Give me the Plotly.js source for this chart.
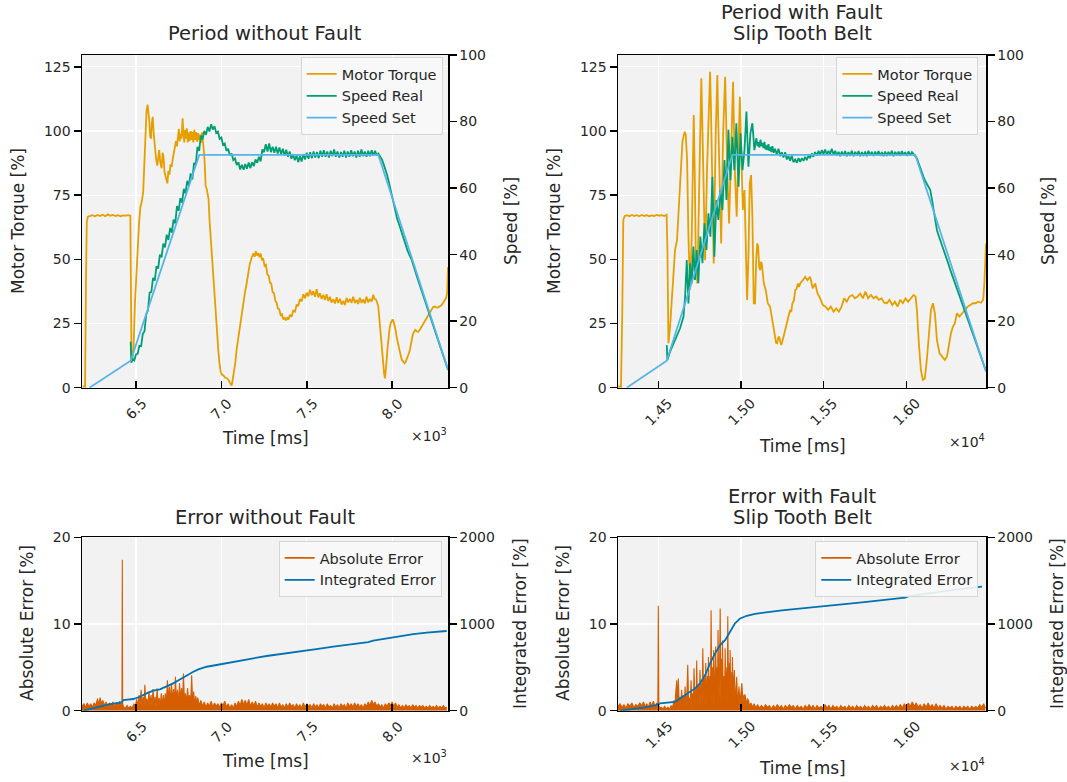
<!DOCTYPE html>
<html><head><meta charset="utf-8">
<script src="https://cdn.plot.ly/plotly-3.0.1.min.js"></script>
<style>html,body{margin:0;padding:0;background:#fff}#chart{width:1067px;height:782px}</style>
</head><body><div id="chart"></div>
<script>
// ---------------- DATA (time in ms, values in %) ----------------
const noFaultTickVals = [6500, 7000, 7500, 8000];
const noFaultTickText = ['6.5', '7.0', '7.5', '8.0'];
const faultTickVals = [14500, 15000, 15500, 16000];
const faultTickText = ['1.45', '1.50', '1.55', '1.60'];
const torqueTicks = [0, 25, 50, 75, 100, 125];
const speedTicks = [0, 20, 40, 60, 80, 100];
const absErrTicks = [0, 10, 20];
const intErrTicks = [0, 1000, 2000];

const noFaultTorque = [[6188,0.5],[6202,0.3],[6207,40],[6212,64.5],[6218,66.6],[6230,66.9],[6245,67.2],[6260,66.8],[6275,67.3],[6290,66.9],[6305,67.4],[6320,66.8],[6335,67.5],[6350,67.0],[6365,67.3],[6380,66.9],[6395,67.2],[6410,66.8],[6425,67.1],[6440,67.0],[6455,67.2],[6467,67.0],[6471,40],[6474,10.8],[6480,10.5],[6486,16],[6494,32.9],[6502,45],[6510,53],[6518,64],[6526,70.5],[6534,72.5],[6542,76],[6548,86],[6555,98],[6562,108],[6568,110.3],[6573,108],[6578,104],[6583,98],[6588,97],[6593,103],[6598,105.5],[6604,99],[6611,92.6],[6618,89],[6625,86.5],[6631,92],[6636,92.6],[6642,88],[6650,85.5],[6656,91.5],[6661,90],[6667,84],[6673,82.5],[6679,80.5],[6684,79.6],[6690,84.5],[6696,83],[6702,87],[6709,86],[6715,89],[6722,91.3],[6728,93],[6734,96],[6740,94],[6746,99],[6751,100.8],[6756,96],[6762,99],[6767,97],[6773,104.9],[6778,99],[6783,95.5],[6788,100.5],[6793,97],[6798,101],[6803,95.5],[6808,99.5],[6814,96],[6820,100],[6826,96.5],[6831,99.7],[6836,95.5],[6842,100.5],[6848,96.5],[6853,99.6],[6858,95.8],[6864,99.2],[6869,96.5],[6875,98.6],[6881,95.4],[6887,99.5],[6892,97],[6897,92.6],[6902,88],[6908,78.5],[6914,77.5],[6920,75.5],[6925,73.5],[6931,65],[6937,58.8],[6945,51],[6953,43.2],[6960,35.5],[6968,27.7],[6975,21],[6982,14.7],[6989,9.5],[6996,6.2],[7004,5.0],[7011,4.9],[7020,4.0],[7031,3.8],[7040,3.2],[7046,2.5],[7053,1.5],[7060,0.8],[7066,3],[7074,6],[7082,10],[7089,14.7],[7099,19.5],[7109,23.8],[7118,28.5],[7128,33],[7138,37],[7148,40.6],[7157,44.6],[7167,48.4],[7177,50.5],[7187,52.3],[7195,51],[7202,53.2],[7209,51.5],[7216,52.4],[7223,50.8],[7230,52.3],[7238,49.6],[7245,50.4],[7253,47.4],[7261,47.8],[7269,44.2],[7277,43.6],[7285,40.8],[7292,40.6],[7300,37.2],[7308,36.9],[7316,33.8],[7323,33.2],[7331,30.8],[7339,30.6],[7347,28.2],[7355,28.6],[7362,26.6],[7370,27.4],[7378,26.2],[7386,27.2],[7393,26.6],[7401,28.4],[7411,27.6],[7421,30],[7431,29.6],[7441,32.4],[7450,31.8],[7460,34.6],[7470,33.6],[7480,36.4],[7490,34.8],[7499,37.0],[7509,35.6],[7519,38.2],[7529,36.0],[7538,37.6],[7548,35.4],[7558,38.4],[7568,35.2],[7577,36.8],[7587,34.6],[7597,36.2],[7606,34.2],[7616,36.4],[7626,33.8],[7636,35.4],[7645,33.2],[7655,34.4],[7665,32.8],[7675,35.2],[7684,33.0],[7694,34.6],[7704,32.4],[7714,33.8],[7723,32.2],[7733,35.0],[7743,33.2],[7753,34.6],[7762,33.0],[7772,35.4],[7782,33.0],[7792,34.2],[7801,32.6],[7811,35.0],[7821,33.0],[7831,34.4],[7840,32.8],[7850,35.4],[7860,33.2],[7870,34.6],[7880,33.6],[7889,36.2],[7897,34.6],[7905,34.4],[7912,33.2],[7919,31.6],[7925,27],[7932,21.2],[7940,14.5],[7948,9.5],[7953,5.5],[7958,3.6],[7963,6.5],[7968,10.8],[7973,15.5],[7979,19.9],[7985,23],[7991,25.1],[7997,26.3],[8003,26.6],[8009,25.6],[8014,24.4],[8020,22.5],[8026,19.9],[8034,17],[8042,14.7],[8050,12.5],[8057,10.8],[8065,10],[8073,9.5],[8080,10.2],[8088,11.4],[8096,13],[8104,14.7],[8112,17.8],[8120,20.5],[8128,21.8],[8135,22.5],[8144,21.9],[8153,21.8],[8162,22.6],[8172,23.8],[8182,24.8],[8192,25.7],[8201,27],[8211,28.3],[8221,29.6],[8231,30.9],[8240,31.4],[8250,31.6],[8260,31.2],[8270,31.3],[8280,31.8],[8290,32.2],[8300,33.2],[8309,34.1],[8316,35],[8322,37],[8327,47]];

const noFaultSpeedReal = [[6469,13.8],[6473,7.5],[6480,8.6],[6490,8.2],[6500,10.0],[6510,10.2],[6520,12.6],[6530,12.5],[6540,16.2],[6550,17.0],[6560,22.0],[6570,23.2],[6580,28.6],[6590,28.8],[6600,33.0],[6610,32.2],[6620,36.5],[6630,35.8],[6640,40.0],[6650,39.2],[6660,43.3],[6670,42.2],[6680,46.0],[6690,44.4],[6700,48.0],[6710,46.6],[6720,50.5],[6730,49.4],[6740,54.6],[6750,53.2],[6760,57.0],[6770,55.6],[6780,59.8],[6790,58.4],[6800,62.2],[6810,60.6],[6820,64.4],[6830,62.6],[6840,67.6],[6850,67.0],[6860,72.4],[6870,71.2],[6880,75.8],[6890,74.6],[6900,77.2],[6910,76.0],[6920,78.4],[6930,77.0],[6940,79.2],[6950,77.6],[6960,78.6],[6970,76.6],[6980,77.0],[6990,74.8],[7000,75.2],[7010,73.0],[7020,73.4],[7030,71.2],[7040,71.8],[7050,69.8],[7060,70.4],[7070,68.4],[7080,68.9],[7090,66.9],[7100,67.8],[7110,65.6],[7120,67.0],[7130,65.5],[7140,67.2],[7150,65.8],[7160,67.7],[7170,66.0],[7180,67.8],[7190,66.6],[7200,68.6],[7210,67.6],[7220,69.4],[7230,68.0],[7240,71.6],[7250,70.8],[7260,73.2],[7270,71.0],[7280,73.4],[7290,70.8],[7300,72.4],[7310,70.6],[7320,72.4],[7330,70.4],[7340,72.2],[7350,70.2],[7360,71.8],[7370,69.8],[7380,71.5],[7390,69.4],[7400,71.0],[7410,68.8],[7420,70.2],[7430,68.4],[7440,69.8],[7450,67.8],[7460,69.6],[7470,68.0],[7480,70.2],[7490,68.6],[7500,70.6],[7510,68.8],[7520,70.8],[7530,69.0],[7540,71.0],[7550,69.2],[7560,70.8],[7570,69.0],[7580,71.2],[7590,69.4],[7600,71.4],[7610,69.4],[7620,71.0],[7630,69.2],[7640,71.2],[7650,69.6],[7660,71.6],[7670,69.4],[7680,71.0],[7690,69.2],[7700,70.8],[7710,69.4],[7720,71.2],[7730,69.2],[7740,71.0],[7750,69.4],[7760,71.4],[7770,69.6],[7780,71.0],[7790,69.2],[7800,71.2],[7810,69.4],[7820,71.6],[7830,69.6],[7840,71.0],[7850,69.4],[7860,71.2],[7870,69.6],[7880,71.4],[7890,69.8],[7900,71.2],[7910,69.8],[7919,70.4],[7930,69.6],[7940,68.6],[7950,67.2],[7960,65.8],[7970,64.0],[7980,62.0],[7990,59.8],[8000,57.2],[8010,54.8],[8020,52.8],[8030,50.6],[8040,49.2],[8050,47.6],[8060,45.6],[8070,44.0],[8080,42.6],[8090,41.2],[8100,40.0],[8114,38.5],[8150,32.6],[8200,24.8],[8250,17.2],[8300,9.4],[8327,5.3]];

const noFaultSpeedSet = [[6228,0],[6469,8.1],[6871,70],[7919,70],[8327,5.5]];

const faultTorque = [[14258,0.5],[14274,0.3],[14282,30],[14288,65.3],[14296,66.8],[14310,67.2],[14325,66.8],[14340,67.3],[14355,66.9],[14370,67.2],[14385,66.8],[14400,67.3],[14415,66.9],[14430,67.2],[14445,66.8],[14460,67.1],[14475,66.9],[14490,67.3],[14505,67.0],[14520,67.2],[14535,66.9],[14550,67.4],[14555,53.6],[14561,17.3],[14571,23.8],[14585,38],[14601,53.6],[14613,57.5],[14625,73.1],[14637,88.7],[14646,96],[14652,97.8],[14660,99.7],[14666,98.5],[14674,88.7],[14682,58.8],[14692,38],[14702,58.8],[14708,85],[14714,106.2],[14720,85],[14726,53.6],[14736,40.6],[14746,77],[14753,100],[14760,120.5],[14767,100],[14773,77],[14783,49.7],[14795,86.1],[14804,110],[14813,123.1],[14818,110],[14823,92.6],[14835,48.4],[14847,99.1],[14857,121.8],[14862,105],[14868,86.1],[14880,56.2],[14892,99.1],[14904,121.1],[14910,105],[14916,86.1],[14928,64],[14940,92.6],[14952,119.2],[14958,100],[14964,82.2],[14974,66.6],[14984,92.6],[14993,113.3],[15001,92.6],[15011,69.2],[15021,77],[15029,53.6],[15037,34.2],[15045,51],[15053,79.6],[15061,82.8],[15069,66.6],[15077,32.9],[15085,32.9],[15092,50],[15098,56.2],[15104,55],[15110,47],[15116,45.8],[15121,49],[15126,48.4],[15132,43],[15138,40.6],[15150,38],[15162,32.9],[15176,31.5],[15190,25.1],[15198,22],[15206,19.9],[15212,17.5],[15219,17.3],[15225,19.5],[15231,19.9],[15237,18],[15243,16.6],[15250,18],[15257,19.9],[15264,21.5],[15271,23.8],[15283,27.7],[15297,30.3],[15304,29.5],[15311,32.9],[15320,34],[15328,38],[15336,38.5],[15344,40.6],[15351,39.2],[15358,40.6],[15374,41.9],[15388,43.2],[15402,41.9],[15418,43.2],[15434,38.7],[15449,40.6],[15463,36.7],[15479,34.8],[15495,32.2],[15511,31.6],[15527,30.3],[15543,31.6],[15560,29.6],[15576,30.9],[15592,29.6],[15608,31.6],[15624,34.8],[15640,33.5],[15656,35.5],[15673,36.1],[15689,34.8],[15705,35.5],[15721,36.7],[15737,34.8],[15753,37.4],[15769,34.8],[15786,36.1],[15802,34.8],[15818,35.5],[15834,34.2],[15850,34.8],[15866,33.1],[15882,32.9],[15898,34.2],[15915,32.2],[15931,33.5],[15947,31.6],[15963,34.2],[15979,32.9],[15995,34.8],[16011,33.5],[16028,34.8],[16044,36.1],[16056,35.5],[16064,30.3],[16076,17.3],[16088,6.9],[16100,3],[16112,3.6],[16124,10.8],[16137,22.5],[16149,30.3],[16161,32.9],[16173,29],[16185,18.6],[16201,13.4],[16217,12.1],[16233,10.8],[16246,12.1],[16258,17.3],[16270,21.2],[16282,23.8],[16294,25.1],[16306,29],[16322,27.7],[16338,29],[16354,30.3],[16371,31.6],[16387,32.2],[16403,32.9],[16419,32.9],[16435,33.5],[16451,33.1],[16465,34.2],[16472,40.6],[16482,56.2]];

const faultSpeedReal = [[14551,12.8],[14555,8.3],[14571,10.8],[14591,13.3],[14611,15.3],[14631,17.8],[14652,21.3],[14662,27.4],[14672,38.4],[14682,25.3],[14692,37.4],[14702,31.4],[14712,42.4],[14722,32.4],[14732,41.4],[14742,31.4],[14754,45.4],[14767,37.4],[14779,49.4],[14791,41.4],[14803,52.4],[14815,45.4],[14827,63.4],[14839,39.4],[14851,56.4],[14863,50.4],[14876,59.4],[14888,53.4],[14900,68.4],[14912,56.4],[14924,77.5],[14936,62.4],[14948,75.4],[14960,65.4],[14972,79.5],[14985,60.4],[14997,76.5],[15009,65.4],[15021,71.4],[15033,83],[15045,66.4],[15057,76.5],[15069,79.5],[15081,71.4],[15093,75],[15100,72.6],[15106,73.8],[15112,72.2],[15118,74.6],[15124,72.6],[15130,73.6],[15136,72.0],[15142,73.9],[15148,71.6],[15154,72.8],[15160,71.4],[15166,73.2],[15172,71.2],[15178,72.4],[15184,70.8],[15190,72.6],[15198,70.6],[15206,71.8],[15216,70.2],[15227,71.8],[15237,69.6],[15247,70.8],[15257,69.2],[15267,70.8],[15277,68.6],[15287,69.6],[15297,68.2],[15307,69.8],[15317,67.8],[15328,68.6],[15338,67.6],[15348,69.0],[15358,67.9],[15368,69.0],[15378,68.2],[15388,69.4],[15398,68.4],[15408,69.8],[15418,69.0],[15428,70.4],[15438,69.4],[15448,70.8],[15459,69.8],[15469,71.2],[15479,70.0],[15489,71.4],[15499,70.2],[15509,71.6],[15519,70.0],[15529,71.2],[15539,70.2],[15549,71.8],[15560,70.0],[15570,71.2],[15580,69.8],[15590,70.9],[15600,69.6],[15610,71.0],[15620,69.8],[15630,71.1],[15640,69.6],[15650,70.8],[15660,69.7],[15670,71.2],[15681,69.6],[15691,70.9],[15701,69.8],[15711,71.1],[15721,69.6],[15731,70.8],[15741,69.7],[15751,71.0],[15761,69.6],[15771,71.2],[15781,69.8],[15791,70.9],[15802,69.7],[15812,71.0],[15822,69.8],[15832,71.1],[15842,69.7],[15852,70.8],[15862,69.6],[15872,71.0],[15882,69.7],[15892,70.9],[15902,69.8],[15912,71.2],[15923,69.6],[15933,70.9],[15943,69.8],[15953,71.0],[15963,69.7],[15973,71.1],[15983,69.9],[15993,70.8],[16003,69.7],[16013,71.0],[16024,69.8],[16034,70.8],[16044,70.0],[16054,69.6],[16064,68.9],[16074,67.4],[16084,65.9],[16094,64.4],[16104,63.4],[16114,62.2],[16124,61.4],[16135,60.6],[16145,59.4],[16155,56.6],[16165,53.4],[16175,50.2],[16185,47.4],[16195,45.8],[16205,44.4],[16215,42.8],[16225,41.4],[16235,40.2],[16246,38.9],[16256,37.0],[16266,35.4],[16296,31.2],[16326,27.4],[16357,22.8],[16387,18.3],[16417,14.2],[16447,10.3],[16482,5.0]];

const faultSpeedSet = [[14309,0],[14551,8.1],[14948,70],[16054,70],[16482,4.8]];

const noFaultAbsErr = [[6184,0.5],[6195,0.8],[6205,0.4],[6215,0.9],[6225,0.5],[6235,0.8],[6245,0.4],[6255,0.9],[6265,0.6],[6275,1.4],[6282,0.7],[6290,1.5],[6298,0.8],[6306,1.2],[6315,0.6],[6325,1.0],[6335,0.5],[6345,0.9],[6355,0.6],[6365,1.0],[6375,0.5],[6385,0.9],[6395,0.6],[6405,1.1],[6414,0.7],[6418,0.8],[6420,17.4],[6422,0.8],[6428,0.4],[6438,0.3],[6448,0.6],[6458,0.3],[6468,0.5],[6478,0.3],[6488,0.8],[6496,0.4],[6504,1.3],[6512,0.5],[6518,1.8],[6524,0.6],[6530,2.4],[6536,0.5],[6542,1.6],[6548,0.7],[6552,3.0],[6558,0.6],[6564,1.4],[6570,0.4],[6576,2.2],[6582,0.6],[6588,1.8],[6594,0.5],[6600,2.5],[6606,0.7],[6612,1.6],[6618,0.4],[6624,2.6],[6630,0.6],[6636,1.5],[6642,0.4],[6648,2.0],[6654,0.5],[6660,1.8],[6666,0.6],[6672,2.0],[6678,0.8],[6684,3.5],[6690,1.2],[6696,2.8],[6702,0.9],[6708,3.2],[6714,1.0],[6720,2.5],[6726,0.8],[6731,3.9],[6737,1.1],[6743,2.4],[6749,0.6],[6755,3.2],[6761,1.3],[6767,2.6],[6772,0.8],[6778,4.3],[6784,1.0],[6790,2.0],[6796,0.7],[6802,2.6],[6808,1.1],[6814,1.8],[6820,0.6],[6826,4.1],[6832,0.9],[6838,2.2],[6844,0.6],[6850,1.7],[6856,0.8],[6862,1.5],[6870,0.6],[6880,1.2],[6890,0.5],[6900,1.0],[6910,0.4],[6920,0.9],[6930,0.5],[6940,1.1],[6950,0.4],[6960,0.9],[6970,0.5],[6980,0.8],[6990,0.4],[7000,0.9],[7010,0.6],[7020,1.1],[7030,0.4],[7040,0.8],[7050,0.3],[7060,0.7],[7070,0.3],[7080,0.9],[7090,0.5],[7100,1.1],[7110,0.6],[7120,1.3],[7130,0.7],[7140,1.2],[7150,0.6],[7160,1.3],[7170,0.5],[7180,1.0],[7190,0.6],[7200,1.1],[7210,0.4],[7220,0.9],[7230,0.5],[7240,0.8],[7250,0.3],[7260,0.9],[7270,0.5],[7280,0.8],[7290,0.4],[7300,0.9],[7310,0.5],[7320,0.8],[7330,0.3],[7340,0.9],[7350,0.4],[7360,0.7],[7370,0.3],[7380,0.8],[7390,0.4],[7400,0.9],[7410,0.5],[7420,0.7],[7430,0.3],[7440,0.8],[7450,0.4],[7460,0.7],[7470,0.3],[7480,0.9],[7490,0.4],[7500,0.8],[7510,0.5],[7520,0.7],[7530,0.3],[7540,0.8],[7550,0.4],[7560,0.7],[7570,0.3],[7580,0.8],[7590,0.5],[7600,0.7],[7610,0.3],[7620,0.8],[7630,0.4],[7640,0.6],[7650,0.3],[7660,0.8],[7670,0.4],[7680,0.7],[7690,0.3],[7700,0.8],[7710,0.5],[7720,0.7],[7730,0.3],[7740,0.9],[7750,0.5],[7760,0.8],[7770,0.4],[7780,0.9],[7790,0.5],[7800,0.8],[7810,0.4],[7820,0.7],[7830,0.3],[7840,0.8],[7850,0.5],[7860,1.0],[7870,0.6],[7880,1.2],[7890,0.7],[7900,1.0],[7910,0.5],[7920,0.8],[7930,0.4],[7940,0.7],[7950,0.3],[7960,0.8],[7970,0.5],[7980,0.9],[7990,0.6],[8000,1.0],[8010,0.5],[8020,0.9],[8030,0.4],[8040,0.7],[8050,0.3],[8060,0.6],[8070,0.3],[8080,0.7],[8090,0.4],[8100,0.6],[8110,0.3],[8120,0.7],[8130,0.4],[8140,0.6],[8150,0.3],[8160,0.6],[8170,0.4],[8180,0.6],[8190,0.3],[8200,0.5],[8210,0.3],[8220,0.6],[8230,0.3],[8240,0.5],[8250,0.3],[8260,0.6],[8270,0.3],[8280,0.5],[8290,0.3],[8300,0.6],[8310,0.3],[8320,0.4]];

const noFaultIntErr = [[6192,0],[6231,18],[6289,45],[6348,77],[6416,96],[6426,123],[6484,135],[6523,161],[6562,200],[6601,231],[6640,246],[6679,277],[6718,315],[6757,361],[6797,411],[6836,450],[6865,477],[6914,507],[6972,527],[7031,546],[7109,573],[7187,604],[7265,631],[7343,650],[7421,669],[7499,692],[7577,715],[7655,738],[7733,758],[7811,777],[7860,792],[7889,807],[7967,831],[8046,861],[8124,884],[8202,900],[8319,919]];

const faultAbsErr = [[14256,0.5],[14268,0.8],[14280,0.4],[14292,0.7],[14304,0.3],[14316,0.8],[14328,0.5],[14340,0.9],[14352,0.4],[14364,0.7],[14376,0.5],[14388,0.9],[14400,0.6],[14410,1.0],[14420,0.5],[14430,0.8],[14440,0.4],[14450,1.0],[14460,0.6],[14470,1.1],[14480,0.5],[14490,0.9],[14497,0.6],[14500,12.1],[14503,0.6],[14508,0.3],[14518,0.4],[14528,0.2],[14538,0.5],[14548,0.2],[14558,0.4],[14568,0.2],[14578,0.6],[14586,0.3],[14594,1.2],[14600,0.5],[14606,2.2],[14611,3.5],[14616,1.0],[14621,3.7],[14626,0.8],[14632,1.6],[14636,0.4],[14641,2.4],[14646,0.6],[14652,1.8],[14657,0.3],[14662,2.8],[14668,0.4],[14673,2.0],[14678,5.3],[14683,0.8],[14688,1.5],[14693,0.3],[14698,3.5],[14703,0.5],[14708,2.0],[14712,0.3],[14716,4.9],[14721,0.6],[14726,2.5],[14729,0.4],[14732,5.8],[14737,0.5],[14742,3.0],[14747,0.3],[14752,4.7],[14757,0.6],[14762,3.2],[14765,0.4],[14769,7.2],[14774,0.6],[14779,3.8],[14783,0.3],[14787,5.5],[14792,0.5],[14797,4.0],[14800,0.6],[14803,6.2],[14808,1.0],[14813,4.0],[14816,0.4],[14819,11.6],[14824,0.6],[14828,5.0],[14831,0.3],[14835,7.0],[14840,0.6],[14844,4.0],[14847,7.4],[14852,0.8],[14856,5.0],[14858,0.4],[14861,9.3],[14866,1.0],[14870,3.5],[14874,11.8],[14879,0.6],[14883,6.0],[14885,0.3],[14888,8.1],[14893,0.8],[14898,4.0],[14901,0.4],[14904,7.2],[14909,1.0],[14914,5.0],[14917,0.4],[14920,10.9],[14925,0.8],[14930,5.5],[14932,0.5],[14934,7.0],[14939,0.8],[14944,4.5],[14946,0.4],[14948,6.2],[14953,1.0],[14956,3.5],[14960,4.7],[14965,0.8],[14970,3.0],[14974,3.9],[14979,0.6],[14984,2.2],[14988,2.8],[14993,0.7],[15000,2.5],[15005,3.2],[15012,1.0],[15018,1.8],[15025,1.8],[15032,0.6],[15038,1.4],[15045,1.2],[15052,0.5],[15060,0.9],[15070,0.4],[15080,0.8],[15090,0.3],[15100,0.7],[15112,0.3],[15124,0.6],[15136,0.3],[15148,0.7],[15160,0.4],[15172,0.6],[15184,0.2],[15196,0.6],[15208,0.3],[15220,0.7],[15232,0.3],[15244,0.6],[15256,0.2],[15268,0.6],[15280,0.3],[15292,0.7],[15304,0.4],[15316,0.6],[15328,0.2],[15340,0.6],[15352,0.3],[15364,0.5],[15376,0.2],[15388,0.6],[15400,0.3],[15412,0.7],[15424,0.3],[15436,0.6],[15448,0.2],[15460,0.6],[15472,0.3],[15484,0.5],[15496,0.3],[15508,0.7],[15520,0.3],[15532,0.6],[15544,0.2],[15556,0.6],[15568,0.3],[15580,0.5],[15592,0.2],[15604,0.6],[15616,0.3],[15628,0.5],[15640,0.2],[15652,0.6],[15664,0.3],[15676,0.5],[15688,0.2],[15700,0.6],[15712,0.3],[15724,0.5],[15736,0.2],[15748,0.6],[15760,0.3],[15772,0.5],[15784,0.2],[15796,0.6],[15808,0.3],[15820,0.6],[15832,0.2],[15844,0.5],[15856,0.3],[15868,0.6],[15880,0.3],[15892,0.5],[15904,0.2],[15916,0.6],[15928,0.3],[15940,0.6],[15952,0.3],[15964,0.7],[15976,0.3],[15988,0.8],[16000,0.4],[16012,0.9],[16024,0.5],[16036,1.0],[16048,0.5],[16060,0.9],[16072,0.4],[16084,0.7],[16096,0.3],[16108,0.8],[16120,0.4],[16132,0.9],[16144,0.4],[16156,0.7],[16168,0.3],[16180,0.8],[16192,0.3],[16204,0.6],[16216,0.3],[16228,0.6],[16240,0.2],[16252,0.5],[16264,0.3],[16276,0.5],[16288,0.2],[16300,0.5],[16312,0.3],[16324,0.5],[16336,0.2],[16348,0.5],[16360,0.3],[16372,0.5],[16384,0.2],[16396,0.5],[16408,0.3],[16420,0.5],[16432,0.3],[16444,0.7],[16456,0.4],[16468,0.8],[16478,0.3]];

const faultIntErr = [[14268,0],[14339,15],[14420,38],[14490,65],[14510,84],[14601,103],[14641,153],[14682,199],[14722,257],[14752,315],[14783,411],[14813,545],[14843,661],[14874,757],[14904,814],[14934,911],[14964,1007],[14995,1064],[15035,1095],[15085,1118],[15166,1141],[15247,1157],[15368,1180],[15489,1199],[15610,1226],[15731,1249],[15852,1272],[15993,1303],[16014,1322],[16135,1353],[16256,1391],[16357,1411],[16458,1430]];

// ---------------- STYLE / LAYOUT ----------------
const W = 1067, H = 782;
const FONT = 'DejaVu Sans, Liberation Sans, sans-serif';
const TXT = '#262626';
const COL = {torque: '#E69F00', real: '#009E73', set: '#56B4E9', abs: '#D55E00', integ: '#0072B2'};
const xs = a => a.map(p => p[0]);
const ys = a => a.map(p => p[1]);
const fx = p => p / W;
const fy = p => 1 - p / H;

const panels = {
  tl: {x: [82, 448], y: [55, 387.7]},
  tr: {x: [618, 986], y: [55, 387.7]},
  bl: {x: [82, 448], y: [537.3, 710.7]},
  br: {x: [618, 986], y: [537.3, 710.7]}
};
const dx = p => [fx(p.x[0]), fx(p.x[1])];
const dy = p => [fy(p.y[1]), fy(p.y[0])];

const TICKSIZE = 14;
function xAxis(p, range, tickvals, anchor) {
  return {domain: dx(p), range: range, anchor: anchor, tickmode: 'array', tickvals: tickvals,
    showticklabels: false, ticks: 'inside', ticklen: 7, tickwidth: 1.5, tickcolor: '#000',
    showline: true, linecolor: '#000', linewidth: 1.5, mirror: true,
    showgrid: true, gridcolor: '#ffffff', gridwidth: 1.3, zeroline: false, fixedrange: true};
}
function yAxis(p, range, tickvals, anchor) {
  return {domain: dy(p), range: range, anchor: anchor, tickmode: 'array', tickvals: tickvals,
    ticks: 'outside', ticklen: 7, tickwidth: 1.5, tickcolor: '#000',
    tickfont: {family: FONT, size: TICKSIZE, color: TXT},
    showline: true, linecolor: '#000', linewidth: 1.5,
    showgrid: true, gridcolor: '#ffffff', gridwidth: 1.3, zeroline: false, fixedrange: true};
}
function y2Axis(p, range, tickvals, anchor, over) {
  return {domain: dy(p), range: range, anchor: anchor, overlaying: over, side: 'right',
    tickmode: 'array', tickvals: tickvals,
    ticks: 'outside', ticklen: 7, tickwidth: 1.5, tickcolor: '#000',
    tickfont: {family: FONT, size: TICKSIZE, color: TXT},
    showline: true, linecolor: '#000', linewidth: 1.5,
    showgrid: false, zeroline: false, fixedrange: true};
}
function legendAt(rightPx, topPx) {
  return {x: fx(rightPx), y: fy(topPx), xanchor: 'right', yanchor: 'top',
    bgcolor: 'rgba(248,248,248,0.9)', bordercolor: '#d6d6d6', borderwidth: 1,
    font: {family: FONT, size: 14.5, color: TXT}, tracegroupgap: 0, itemwidth: 30};
}

const xRangeNoFault = [6184, 8327];
const xRangeFault = [14256, 16482];

const line = (data, name, color, xa, ya, leg, width) => ({
  type: 'scatter', mode: 'lines', x: xs(data), y: ys(data), name: name,
  xaxis: xa, yaxis: ya, legend: leg, line: {color: color, width: width || 1.8}, hoverinfo: 'skip'
});
const filled = (data, name, color, xa, ya, leg) => Object.assign(line(data, name, color, xa, ya, leg, 1.1),
  {fill: 'tozeroy', fillcolor: color, showlegend: false, legendgroup: name + xa});
// legend-only entry so the key shows a line (like the reference), not a filled box
const keyOnly = (name, color, xa, ya, leg) => ({type: 'scatter', mode: 'lines', x: [null], y: [null],
  name: name, xaxis: xa, yaxis: ya, legend: leg, legendgroup: name + xa, line: {color: color, width: 1.8}, hoverinfo: 'skip'});

const traces = [
  line(noFaultTorque, 'Motor Torque', COL.torque, 'x', 'y', 'legend'),
  line(noFaultSpeedReal, 'Speed Real', COL.real, 'x', 'y2', 'legend'),
  line(noFaultSpeedSet, 'Speed Set', COL.set, 'x', 'y2', 'legend'),
  line(faultTorque, 'Motor Torque', COL.torque, 'x2', 'y3', 'legend2'),
  line(faultSpeedReal, 'Speed Real', COL.real, 'x2', 'y4', 'legend2'),
  line(faultSpeedSet, 'Speed Set', COL.set, 'x2', 'y4', 'legend2'),
  filled(noFaultAbsErr, 'Absolute Error', COL.abs, 'x3', 'y5', 'legend3'),
  keyOnly('Absolute Error', COL.abs, 'x3', 'y5', 'legend3'),
  line(noFaultIntErr, 'Integrated Error', COL.integ, 'x3', 'y6', 'legend3'),
  filled(faultAbsErr, 'Absolute Error', COL.abs, 'x4', 'y7', 'legend4'),
  keyOnly('Absolute Error', COL.abs, 'x4', 'y7', 'legend4'),
  line(faultIntErr, 'Integrated Error', COL.integ, 'x4', 'y8', 'legend4')
];

const ann = [];
function text(t, xpx, ypx, size, opts) {
  ann.push(Object.assign({text: t, x: fx(xpx), y: fy(ypx), xref: 'paper', yref: 'paper',
    showarrow: false, xanchor: 'center', yanchor: 'middle',
    font: {family: FONT, size: size, color: TXT}}, opts || {}));
}
const TITLE = 19.5, LABEL = 17;
// subplot titles
text('Period without Fault', 265, 33, TITLE);
text('Period with Fault', 802, 12, TITLE);
text('Slip Tooth Belt', 802, 33.5, TITLE);
text('Error without Fault', 265, 517, TITLE);
text('Error with Fault', 802, 496, TITLE);
text('Slip Tooth Belt', 802, 517.5, TITLE);
// x titles
text('Time [ms]', 265, 438, LABEL);
text('Time [ms]', 802, 446, LABEL);
text('Time [ms]', 265, 761, LABEL);
text('Time [ms]', 802, 768, LABEL);
// offset texts
text('×10<sup>3</sup>', 449, 435, TICKSIZE, {xanchor: 'right'});
text('×10<sup>4</sup>', 987, 441, TICKSIZE, {xanchor: 'right'});
text('×10<sup>3</sup>', 449, 757, TICKSIZE, {xanchor: 'right'});
text('×10<sup>4</sup>', 987, 765, TICKSIZE, {xanchor: 'right'});
// y titles
text('Motor Torque [%]', 18, 221, LABEL, {textangle: -90});
text('Speed [%]', 511, 221, LABEL, {textangle: -90});
text('Motor Torque [%]', 554, 221, LABEL, {textangle: -90});
text('Speed [%]', 1048, 221, LABEL, {textangle: -90});
text('Absolute Error [%]', 27, 623, LABEL, {textangle: -90});
text('Integrated Error [%]', 520, 624, LABEL, {textangle: -90});
text('Absolute Error [%]', 563, 623, LABEL, {textangle: -90});
text('Integrated Error [%]', 1057, 624, LABEL, {textangle: -90});
// rotated x tick labels
function tickLabels(vals, labels, xref, ypx) {
  vals.forEach((v, i) => ann.push({text: labels[i], x: v, xref: xref, y: fy(ypx), yref: 'paper',
    showarrow: false, xanchor: 'center', yanchor: 'middle', textangle: -45,
    font: {family: FONT, size: TICKSIZE, color: TXT}}));
}
tickLabels(noFaultTickVals, noFaultTickText, 'x', 409);
tickLabels(faultTickVals, faultTickText, 'x2', 412);
tickLabels(noFaultTickVals, noFaultTickText, 'x3', 731.5);
tickLabels(faultTickVals, faultTickText, 'x4', 734.5);

const layout = {
  width: W, height: H, margin: {l: 0, r: 0, t: 0, b: 0},
  paper_bgcolor: '#ffffff', plot_bgcolor: '#f2f2f2',
  font: {family: FONT, color: TXT},
  showlegend: true,
  xaxis: xAxis(panels.tl, xRangeNoFault, noFaultTickVals, 'y'),
  yaxis: yAxis(panels.tl, [0, 129.6], torqueTicks, 'x'),
  yaxis2: y2Axis(panels.tl, [0, 100], speedTicks, 'x', 'y'),
  xaxis2: xAxis(panels.tr, xRangeFault, faultTickVals, 'y3'),
  yaxis3: yAxis(panels.tr, [0, 129.6], torqueTicks, 'x2'),
  yaxis4: y2Axis(panels.tr, [0, 100], speedTicks, 'x2', 'y3'),
  xaxis3: xAxis(panels.bl, xRangeNoFault, noFaultTickVals, 'y5'),
  yaxis5: yAxis(panels.bl, [0, 20], absErrTicks, 'x3'),
  yaxis6: y2Axis(panels.bl, [0, 2000], intErrTicks, 'x3', 'y5'),
  xaxis4: xAxis(panels.br, xRangeFault, faultTickVals, 'y7'),
  yaxis7: yAxis(panels.br, [0, 20], absErrTicks, 'x4'),
  yaxis8: y2Axis(panels.br, [0, 2000], intErrTicks, 'x4', 'y7'),
  legend: legendAt(442.7, 57),
  legend2: legendAt(978.3, 57),
  legend3: legendAt(441.7, 541),
  legend4: legendAt(978.3, 541),
  annotations: ann
};

Plotly.newPlot('chart', traces, layout, {staticPlot: true, displayModeBar: false});
</script>
</body></html>
